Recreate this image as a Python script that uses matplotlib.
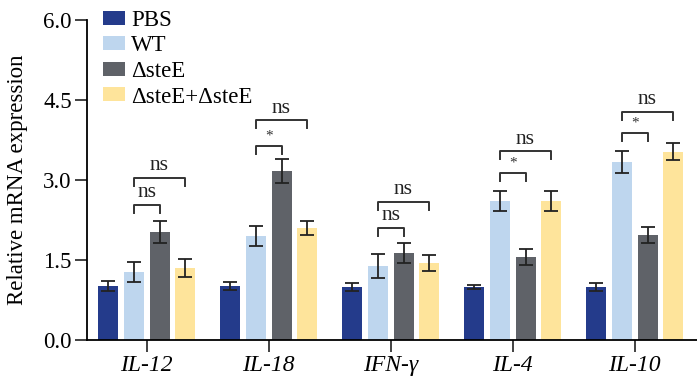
import numpy as np
import matplotlib.pyplot as plt
from matplotlib.patches import Patch

plt.rcParams['font.family'] = ['Liberation Serif', 'DejaVu Serif']

# data
genes = ['IL-12', 'IL-18', 'IFN-γ', 'IL-4', 'IL-10']
groups = ['PBS', 'WT', 'ΔsteE', 'ΔsteE+ΔsteE']
colors = ['#243b8b', '#bed6ee', '#5f6268', '#fee49b']

pbs = [1.01, 1.01, 0.99, 0.99, 0.99]
wt = [1.27, 1.95, 1.39, 2.61, 3.34]
ste = [2.02, 3.17, 1.63, 1.56, 1.97]
comp = [1.35, 2.10, 1.44, 2.61, 3.53]

pbs_err = [0.10, 0.08, 0.08, 0.04, 0.08]
wt_err = [0.19, 0.19, 0.23, 0.19, 0.20]
ste_err = [0.21, 0.22, 0.18, 0.15, 0.15]
comp_err = [0.16, 0.14, 0.15, 0.19, 0.16]

# significance: inner = WT vs ΔsteE, outer = WT vs complement
inner_h = [2.53, 3.64, 2.10, 3.13, 3.88]
inner_lab = ['ns', '*', 'ns', '*', '*']
outer_h = [3.04, 4.12, 2.59, 3.54, 4.28]
outer_lab = ['ns', 'ns', 'ns', 'ns', 'ns']

values = [pbs, wt, ste, comp]
errs = [pbs_err, wt_err, ste_err, comp_err]
offsets = [-0.316, -0.107, 0.107, 0.31]
width = 0.165

fig = plt.figure(figsize=(6.97, 3.76), dpi=100)
ax = fig.add_axes([0.125, 0.0957, 0.875, 0.851])

x = np.arange(len(genes))
for i in range(4):
    ax.bar(x + offsets[i], values[i], width, color=colors[i], label=groups[i], zorder=2)
    ax.errorbar(x + offsets[i], values[i], yerr=errs[i], fmt='none', ecolor='#222222',
                elinewidth=1.3, capsize=5, capthick=1.3, zorder=3)

leg_h = 0.15
for j in range(len(genes)):
    xa = x[j] + offsets[1]
    xb = x[j] + offsets[2]
    xc = x[j] + offsets[3]
    # inner bracket
    h = inner_h[j]
    ax.plot([xa, xa, xb, xb], [h - leg_h, h, h, h - leg_h], color='#333333', lw=1.4)
    if inner_lab[j] == '*':
        ax.text((xa + xb) / 2, h + 0.06, '*', ha='center', va='bottom', fontsize=11, color='#333333')
    else:
        ax.text((xa + xb) / 2, h + 0.05, 'ns', ha='center', va='bottom', fontsize=15.5, color='#222222')
    # outer bracket
    h = outer_h[j]
    ax.plot([xa, xa, xc, xc], [h - leg_h, h, h, h - leg_h], color='#333333', lw=1.4)
    ax.text((xa + xc) / 2, h + 0.05, outer_lab[j], ha='center', va='bottom', fontsize=15.5, color='#222222')

ax.set_xlim(-0.49, 4.51)
ax.set_ylim(0, 6.0)
ax.set_yticks([0.0, 1.5, 3.0, 4.5, 6.0])
ax.set_yticklabels(['0.0', '1.5', '3.0', '4.5', '6.0'], fontsize=16.5)
ax.set_xticks(x)
ax.set_xticklabels(genes, fontsize=17, style='italic')
ax.set_ylabel('Relative mRNA expression', fontsize=16.5)
ax.yaxis.set_label_coords(-0.097, 0.5)
ax.spines['top'].set_visible(False)
ax.spines['right'].set_visible(False)
ax.spines['left'].set_linewidth(1.3)
ax.spines['bottom'].set_linewidth(1.3)
ax.tick_params(axis='both', length=8.5, width=1.3, color='#333333', pad=2.5)

handles = [Patch(facecolor=c) for c in colors]
ax.legend(handles, groups, loc='upper left', bbox_to_anchor=(0.148, 0.974),
          bbox_transform=fig.transFigure, frameon=False, borderpad=0, borderaxespad=0,
          fontsize=16.5, handlelength=0.96, handleheight=0.57, handletextpad=0.25, labelspacing=0.2)

fig.savefig('out.png', dpi=100)
